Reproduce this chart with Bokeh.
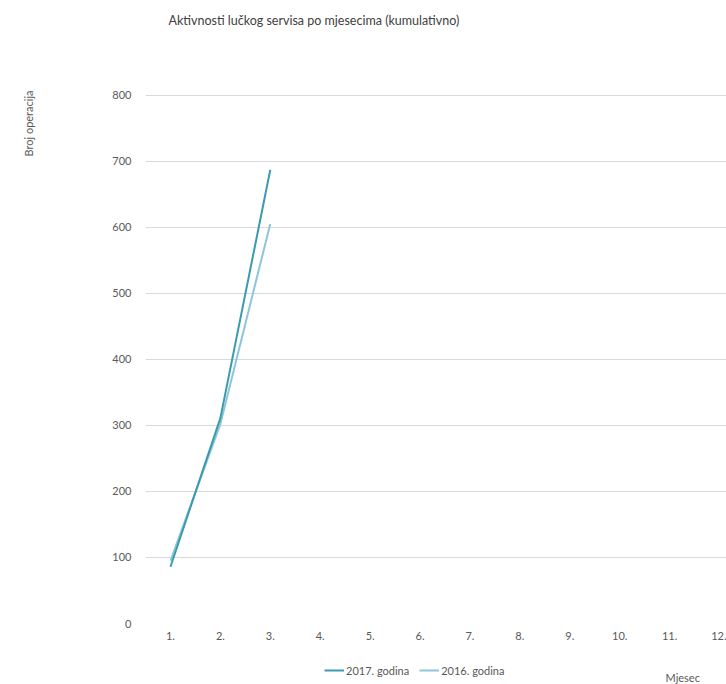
from bokeh.plotting import figure
from bokeh.layouts import column, row
from bokeh.models import Range1d, Legend, LegendItem, FixedTicker, Label
from bokeh.embed import file_html
from bokeh.resources import INLINE

months = [1, 2, 3]
month_labels = ["1.", "2.", "3.", "4.", "5.", "6.", "7.", "8.", "9.", "10.", "11.", "12."]
y2017 = [86, 311, 687]
y2016 = [95, 302, 605]
y_ticks = [0, 100, 200, 300, 400, 500, 600, 700, 800]
series_names = ["2017. godina", "2016. godina"]
series_values = [y2017, y2016]
series_colors = ["#3a9ab0", "#8cc6d8"]

FONT = "Lato"
GREY = "#595959"


def strip(width, height, left=0):
    f = figure(width=width, height=height, output_backend="svg", toolbar_location=None,
               x_range=Range1d(0, 1), y_range=Range1d(0, 1),
               x_axis_type=None, y_axis_type=None,
               min_border_left=left, min_border_right=0, min_border_top=0, min_border_bottom=0)
    f.outline_line_color = None
    f.xgrid.grid_line_color = None
    f.ygrid.grid_line_color = None
    return f


# left strip: y axis name
pL = strip(60, 684)
pL.add_layout(Label(x=28, y=594, x_units="screen", y_units="screen", text="Broj operacija",
                    angle=90, angle_units="deg", text_align="right", text_baseline="middle",
                    text_font=FONT, text_font_size="11px", text_color=GREY))

# top strip: title
pT = strip(666, 40, left=85)
pT.add_layout(Label(x=23, y=20, x_units="screen", y_units="screen",
                    text="Aktivnosti lučkog servisa po mjesecima (kumulativno)",
                    text_baseline="middle", text_font=FONT, text_font_size="12.5px",
                    text_color="#404040"))

# main chart
p = figure(width=666, height=610, output_backend="svg", toolbar_location=None,
           x_range=Range1d(0.5, 12.14), y_range=Range1d(0, 801),
           min_border_left=85, min_border_right=0, min_border_top=54, min_border_bottom=27)
p.outline_line_color = None
p.xaxis.ticker = FixedTicker(ticks=list(range(1, 13)))
p.xaxis.major_label_overrides = {i + 1: lab for i, lab in enumerate(month_labels)}
p.yaxis.ticker = FixedTicker(ticks=y_ticks)
for ax in (p.xaxis[0], p.yaxis[0]):
    ax.axis_line_color = None
    ax.major_tick_line_color = None
    ax.minor_tick_line_color = None
    ax.major_label_text_font = FONT
    ax.major_label_text_font_size = "11px"
    ax.major_label_text_color = GREY
p.yaxis.major_label_standoff = 8
p.xaxis.major_label_standoff = 2
p.xgrid.grid_line_color = None
p.ygrid.grid_line_color = "#d9d9d9"
p.ygrid.ticker = FixedTicker(ticks=y_ticks)

lines = [p.line(months, v, line_color=c, line_width=2) for v, c in zip(series_values, series_colors)]
p.renderers = lines[::-1]

# bottom strip: legend + x axis name
pB = strip(666, 34, left=85)
proxies = [pB.line(months, v, line_color=c, line_width=2) for v, c in zip(series_values, series_colors)]
legend = Legend(items=[LegendItem(label=n, renderers=[r]) for n, r in zip(series_names, proxies)],
                orientation="horizontal", location=(179, 7),
                label_text_font=FONT, label_text_font_size="11px", label_text_color=GREY,
                glyph_width=20, glyph_height=14, label_height=14, label_standoff=2, spacing=10,
                border_line_color=None, background_fill_alpha=0, padding=0, margin=0)
pB.add_layout(legend, "center")
pB.add_layout(Label(x=520, y=7, x_units="screen", y_units="screen", text="Mjesec",
                    text_baseline="middle", text_font=FONT, text_font_size="11px",
                    text_color=GREY))

layout = row(pL, column(pT, p, pB, spacing=0), spacing=0)
open("out.html", "w").write(file_html(layout, INLINE))
